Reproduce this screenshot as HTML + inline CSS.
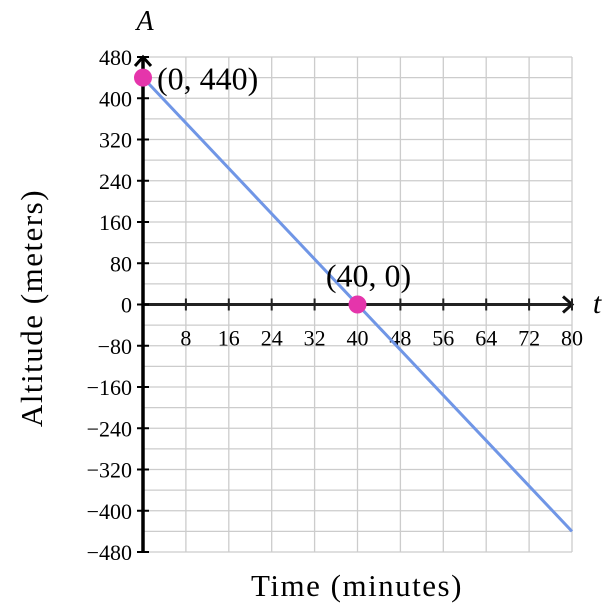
<!DOCTYPE html>
<html><head><meta charset="utf-8"><style>
body{margin:0;background:#fff}
svg{display:block;font-family:"Liberation Serif",serif}
</style></head><body>
<svg id="chart" width="616" height="616" viewBox="0 0 616 616"></svg>
<script>
const xTicks=[8,16,24,32,40,48,56,64,72,80];
const yTicks=[480,400,320,240,160,80,0,-80,-160,-240,-320,-400,-480];
const lineT=[0,80];
const lineA=[440,-440];
const pointsT=[0,40];
const pointsA=[440,0];
const pointLabels=["(0, 440)","(40, 0)"];
const X=t=>143+t*(429/80);
const Y=a=>304.5-a*(247.5/480);
const svg=document.getElementById('chart');
const NS='http://www.w3.org/2000/svg';
function mk(tag,attrs,parent){const e=document.createElementNS(NS,tag);for(const k in attrs)e.setAttribute(k,attrs[k]);(parent||svg).appendChild(e);return e;}
const grid=mk('g',{});


for(let t=0;t<=80;t+=8){mk('line',{x1:X(t),x2:X(t),y1:Y(480),y2:Y(-480),stroke:'#ccc','stroke-width':1.3},grid);}
for(let a=-480;a<=480;a+=40){mk('line',{x1:X(0),x2:X(80),y1:Y(a),y2:Y(a),stroke:'#ccc','stroke-width':1.3},grid);}
const xa=mk('line',{x1:X(0),x2:X(80),y1:Y(0),y2:Y(0),stroke:'#222','stroke-width':3});


mk('path',{d:`M${X(80)-9} ${Y(0)-8} L${X(80)} ${Y(0)} L${X(80)-9} ${Y(0)+8}`,fill:'none',stroke:'#111','stroke-width':3});
const ya=mk('line',{x1:X(0),x2:X(0),y1:Y(480),y2:Y(-480),stroke:'#000','stroke-width':3.5});


mk('path',{d:`M${X(0)-8} ${Y(480)+9} L${X(0)} ${Y(480)} L${X(0)+8} ${Y(480)+9}`,fill:'none',stroke:'#000','stroke-width':3});
xTicks.forEach(t=>{
 mk('line',{x1:X(t),x2:X(t),y1:Y(0)-6,y2:Y(0)+6,stroke:'#222','stroke-width':2});
 const tx=mk('text',{x:X(t),y:Y(0)+41,'text-anchor':'middle','font-size':22});
 tx.textContent=t;
 
 
});
yTicks.forEach(a=>{
 mk('line',{x1:X(0)-6,x2:X(0)+6,y1:Y(a),y2:Y(a),stroke:'#000','stroke-width':2});
 const tx=mk('text',{x:X(0)-11,y:Y(a)+8,'text-anchor':'end','font-size':22});
 tx.textContent=a<0?'\u2212'+(-a):a;
 
 
});
const ln=mk('line',{x1:X(lineT[0]),y1:Y(lineA[0]),x2:X(lineT[1]),y2:Y(lineA[1]),stroke:'#7096e6','stroke-width':3});


pointsT.forEach((t,i)=>{
 const c=mk('circle',{cx:X(t),cy:Y(pointsA[i]),r:9,fill:'#e535ab'});
 
 
});
const l1=mk('text',{x:X(0)+14,y:Y(440)+12,'font-size':32});l1.textContent=pointLabels[0];


const l2=mk('text',{x:X(40)+11,y:Y(0)-18,'text-anchor':'middle','font-size':32});l2.textContent=pointLabels[1];


const at=mk('text',{x:145,y:30,'text-anchor':'middle','font-size':28,'font-style':'italic'});at.textContent='A';


const tt=mk('text',{x:597,y:313,'text-anchor':'middle','font-size':30,'font-style':'italic'});tt.textContent='t';


const xt=mk('text',{x:357,y:596,'text-anchor':'middle','font-size':31,'letter-spacing':'1.5'});xt.textContent='Time (minutes)';


const yt=mk('text',{x:0,y:0,'text-anchor':'middle','font-size':31,'letter-spacing':'1.5',transform:'translate(42,308) rotate(-90)'});yt.textContent='Altitude (meters)';


</script>
</body></html>
